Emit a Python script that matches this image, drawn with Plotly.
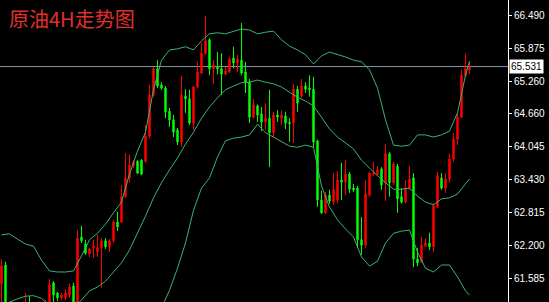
import plotly.graph_objects as go

title_text = "原油4H走势图"

opens = [61.49, 61.84, 60.82, 60.54, 60.72, 60.63, 60.85, 61.10, 60.97, 60.78,
         60.91, 60.85, 61.04, 61.51, 61.32, 61.23, 61.23, 61.28, 61.45, 61.15,
         62.36, 62.23, 62.05, 62.16, 62.08, 62.16, 62.29, 62.18, 62.29, 62.64,
         62.64, 63.11, 63.46, 63.68, 63.77, 63.79, 63.77, 64.24, 65.00, 65.49,
         65.19, 65.13, 64.70, 64.54, 64.35, 64.13, 64.98, 64.93, 64.48, 65.15,
         65.41, 65.78, 66.03, 65.49, 65.52, 65.49, 65.39, 65.43, 65.69, 65.60,
         65.65, 65.43, 65.24, 64.59, 64.80, 64.65, 64.50, 64.57, 64.30, 64.63,
         64.57, 64.61, 64.49, 64.48, 65.11, 64.98, 65.17, 65.13, 65.11, 64.15,
         63.05, 62.81, 63.14, 63.01, 63.05, 63.42, 63.38, 63.53, 63.27, 63.27,
         62.31, 62.21, 63.14, 63.53, 63.53, 63.63, 63.37, 63.91, 63.37, 63.68,
         63.11, 63.01, 63.27, 63.46, 61.95, 61.90, 62.19, 62.25, 62.18, 62.92,
         63.46, 63.27, 63.44, 63.81, 64.18, 64.59, 65.36, 65.47]

highs = [61.95, 61.90, 60.85, 60.78, 60.91, 60.97, 61.32, 61.26, 61.04, 61.00,
         61.08, 61.19, 61.58, 61.54, 61.34, 61.32, 61.39, 61.49, 61.51, 62.49,
         62.57, 62.31, 62.16, 62.31, 62.40, 62.34, 62.34, 62.32, 62.68, 62.83,
         63.33, 63.92, 63.89, 63.79, 63.79, 63.81, 64.44, 65.19, 65.52, 65.65,
         65.24, 65.17, 64.76, 64.63, 64.39, 65.36, 65.11, 65.10, 65.17, 65.62,
         65.97, 66.47, 66.06, 65.65, 65.80, 65.78, 65.52, 65.71, 65.90, 65.75,
         66.34, 65.62, 65.30, 64.93, 64.83, 64.78, 64.85, 65.10, 64.69, 64.72,
         64.72, 64.69, 64.57, 65.21, 65.17, 65.30, 65.24, 65.37, 65.34, 64.17,
         63.22, 63.20, 63.24, 63.55, 63.59, 63.74, 63.79, 63.57, 63.35, 63.31,
         62.73, 63.42, 63.57, 63.76, 63.68, 63.66, 64.09, 63.94, 63.76, 63.72,
         63.27, 63.42, 63.68, 63.55, 62.16, 62.36, 62.34, 62.44, 62.98, 63.57,
         63.55, 63.55, 63.91, 64.30, 64.67, 65.47, 65.77, 65.62]

lows = [61.10, 60.63, 60.45, 60.48, 60.45, 60.58, 60.78, 60.85, 60.67, 60.71,
        60.74, 60.82, 60.97, 61.13, 61.17, 61.19, 61.19, 61.23, 61.10, 61.12,
        62.25, 62.03, 61.99, 61.97, 61.99, 61.41, 62.14, 62.08, 62.25, 62.47,
        62.62, 63.09, 63.37, 63.64, 63.53, 63.51, 63.74, 64.20, 64.97, 65.13,
        65.10, 64.57, 64.41, 64.22, 64.07, 64.04, 64.67, 64.44, 64.35, 65.13,
        65.39, 65.75, 65.37, 65.21, 65.39, 65.00, 65.37, 65.41, 65.50, 65.43,
        65.37, 65.04, 64.48, 64.57, 64.50, 64.33, 64.35, 63.66, 64.22, 64.50,
        64.44, 64.37, 64.13, 64.11, 64.69, 64.95, 65.04, 64.97, 64.02, 62.92,
        62.79, 62.79, 62.98, 62.96, 62.99, 63.05, 63.14, 63.18, 63.20, 62.16,
        62.03, 62.16, 63.11, 63.50, 63.50, 63.24, 63.03, 63.11, 63.33, 62.81,
        62.98, 62.99, 63.24, 61.80, 61.82, 61.88, 62.18, 62.12, 62.08, 62.90,
        63.24, 63.18, 63.37, 63.76, 64.07, 64.57, 65.34, 65.39]

closes = [61.82, 60.82, 60.54, 60.72, 60.63, 60.85, 61.10, 60.97, 60.78, 60.91,
          60.85, 61.04, 61.47, 61.28, 61.23, 61.28, 61.32, 61.43, 61.15, 62.34,
          62.29, 62.06, 62.14, 62.19, 62.16, 62.29, 62.18, 62.29, 62.64, 62.55,
          63.11, 63.46, 63.70, 63.76, 63.55, 63.53, 64.24, 65.00, 65.49, 65.17,
          65.13, 64.69, 64.54, 64.31, 64.13, 65.00, 64.93, 64.48, 65.15, 65.43,
          65.78, 66.01, 65.49, 65.56, 65.49, 65.39, 65.45, 65.67, 65.60, 65.67,
          65.41, 65.23, 64.59, 64.82, 64.63, 64.50, 64.57, 64.30, 64.63, 64.59,
          64.63, 64.48, 64.47, 65.11, 64.85, 65.17, 65.11, 65.10, 64.13, 63.05,
          62.81, 63.14, 63.03, 63.24, 63.42, 63.38, 63.53, 63.25, 63.24, 62.31,
          62.21, 63.16, 63.55, 63.55, 63.61, 63.33, 63.91, 63.37, 63.72, 63.07,
          63.01, 63.27, 63.44, 61.95, 61.88, 62.21, 62.25, 62.18, 62.94, 63.50,
          63.27, 63.44, 63.81, 64.18, 64.59, 65.37, 65.49, 65.53]

band_idx = list(range(0, 117, 2)) + [117]

upper = [62.40, 62.42, 62.32, 62.23, 62.19, 61.93, 61.73, 61.71, 61.71, 61.73,
         62.01, 62.31, 62.43, 62.60, 62.81, 63.01, 63.53, 63.96, 64.31, 65.10,
         65.65, 65.84, 65.86, 65.90, 65.84, 66.01, 66.14, 66.16, 66.14, 66.19,
         66.23, 66.21, 66.14, 66.17, 66.19, 66.03, 65.91, 65.84, 65.75, 65.58,
         65.73, 65.80, 65.76, 65.71, 65.65, 65.62, 65.47, 65.13, 64.54, 64.07,
         64.05, 64.07, 64.26, 64.26, 64.22, 64.26, 64.33, 64.67, 65.37, 65.63]

middle = [61.04, 61.15, 61.21, 61.26, 61.27, 61.22, 61.08, 61.00, 60.97, 61.04,
          61.19, 61.36, 61.43, 61.54, 61.71, 61.88, 62.12, 62.43, 62.75, 63.09,
          63.37, 63.61, 63.83, 64.09, 64.31, 64.57, 64.78, 64.95, 65.10, 65.17,
          65.23, 65.24, 65.28, 65.24, 65.21, 65.15, 65.06, 64.96, 64.89, 64.80,
          64.59, 64.37, 64.22, 64.11, 64.00, 63.79, 63.64, 63.50, 63.37, 63.25,
          63.25, 63.27, 63.12, 63.01, 62.96, 63.07, 63.09, 63.16, 63.35, 63.44]

lower = [59.70, 59.85, 60.07, 60.26, 60.35, 60.45, 60.35, 60.26, 60.20, 60.22,
         60.26, 60.32, 60.35, 60.39, 60.43, 60.48, 60.56, 60.67, 60.78, 60.89,
         61.04, 61.37, 61.78, 62.25, 62.86, 63.27, 63.46, 63.85, 64.15, 64.20,
         64.22, 64.26, 64.46, 64.30, 64.22, 64.13, 64.05, 64.03, 64.07, 64.03,
         63.31, 62.92, 62.68, 62.51, 62.36, 61.99, 61.82, 61.91, 62.25, 62.43,
         62.47, 62.49, 62.08, 61.78, 61.71, 61.84, 61.84, 61.62, 61.36, 61.28]

tick_vals = [66.490, 65.875, 65.260, 64.660, 64.045, 63.430, 62.815, 62.200, 61.585]
tick_labels = ["66.490", "65.875", "65.260", "64.660", "64.045",
               "63.430", "62.815", "62.200", "61.585"]
last_price = 65.531
last_label = "65.531"

x_idx = list(range(len(opens)))
band_color = "#3cb371"

fig = go.Figure()
for band in (upper, middle, lower):
    fig.add_trace(go.Scatter(x=band_idx, y=band, mode="lines",
                             line=dict(color=band_color, width=1),
                             hoverinfo="skip", showlegend=False))

fig.add_trace(go.Candlestick(
    x=x_idx, open=opens, high=highs, low=lows, close=closes,
    increasing=dict(line=dict(color="#ff0000", width=1), fillcolor="#ff0000"),
    decreasing=dict(line=dict(color="#00ff00", width=1), fillcolor="#00ff00"),
    whiskerwidth=0, showlegend=False))

fig.add_shape(type="line", xref="paper", x0=0, x1=1, yref="y",
              y0=last_price, y1=last_price,
              line=dict(color="#8a94a8", width=1), layer="below")

fig.add_annotation(xref="paper", yref="y", x=1, y=last_price, xanchor="left",
                   xshift=1, text=last_label, showarrow=False,
                   bgcolor="#ffffff", borderpad=1,
                   font=dict(family="Liberation Sans", size=10, color="#000000"))

fig.add_annotation(xref="paper", yref="paper", x=7 / 508, y=1 - 19 / 302,
                   xanchor="left", yanchor="middle", text=title_text,
                   showarrow=False,
                   font=dict(family="Noto Sans CJK SC", size=20, color="#e0302c"))

fig.update_layout(
    width=549, height=302,
    margin=dict(l=0, r=41, t=0, b=0),
    paper_bgcolor="#000000", plot_bgcolor="#000000",
    boxgap=0.5,
    showlegend=False,
    xaxis=dict(range=[-0.375, 126.625], visible=False, rangeslider=dict(visible=False),
               fixedrange=True),
    yaxis=dict(range=[61.152, 66.769], side="right", tickvals=tick_vals,
               ticktext=tick_labels, showgrid=False, zeroline=False,
               showline=True, linecolor="#ffffff", linewidth=1,
               ticks="outside", ticklen=3, tickcolor="#ffffff",
               tickfont=dict(family="Liberation Sans", size=10, color="#ffffff"),
               fixedrange=True),
)

fig.write_html("out.html")
